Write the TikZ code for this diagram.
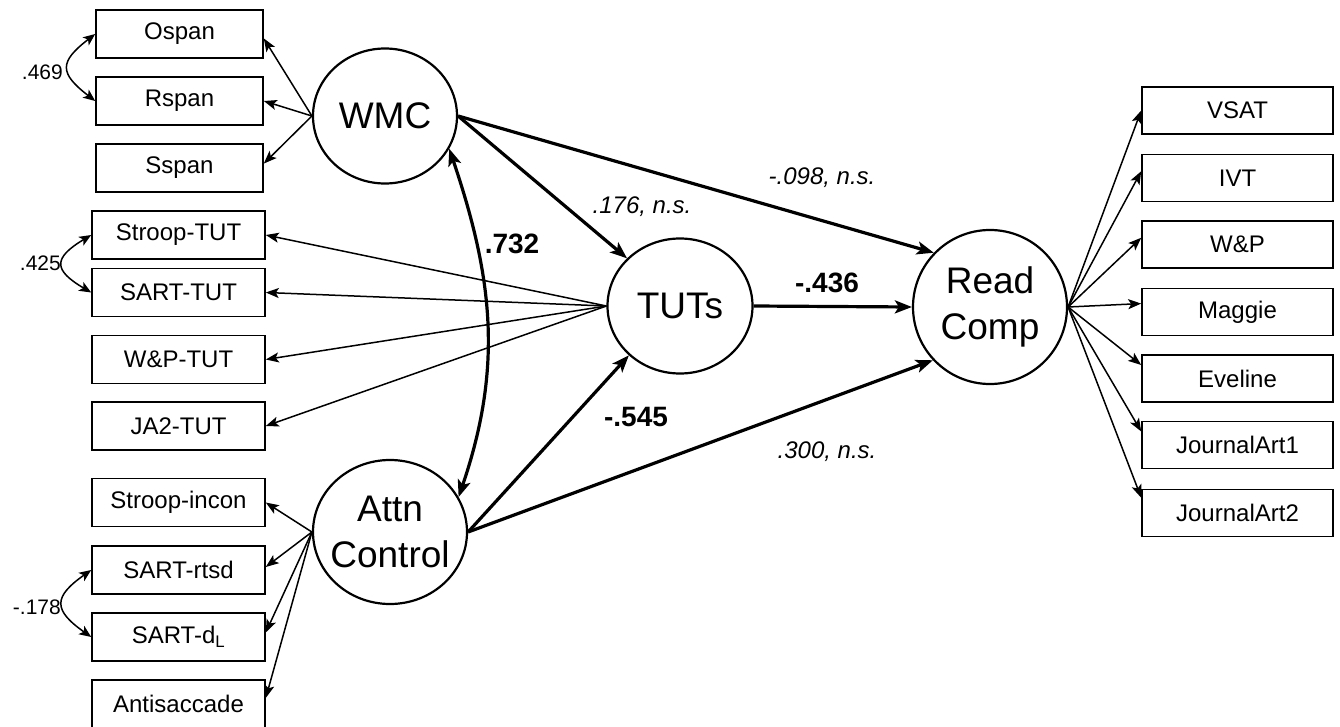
\documentclass[tikz,border=0pt]{standalone}
\usepackage{fontspec}
\setmainfont{Liberation Sans}
\usetikzlibrary{shapes.geometric,arrows.meta}
\begin{document}
\begin{tikzpicture}[x=1pt,y=-1pt,
  obsbox/.style={draw,line width=1.6pt,minimum height=48pt,inner sep=0pt,font=\fontsize{24}{26}\selectfont},
  lbox/.style={obsbox,minimum width=167pt},
  tbox/.style={obsbox,minimum width=173pt},
  rbox/.style={obsbox,minimum width=191pt,minimum height=47pt},
  latent/.style={ellipse,draw,line width=2.2pt,inner sep=0pt},
  latfont/.style={font=\fontsize{37}{46}\selectfont,align=center,inner sep=0pt},
  loading/.style={-{Stealth[length=13pt,width=10pt,inset=3pt]},line width=1.5pt},
  regpath/.style={-{Stealth[length=17pt,width=13pt,inset=4pt]},line width=3.2pt},
  cov/.style={{Stealth[length=12pt,width=10pt,inset=3pt]}-{Stealth[length=12pt,width=10pt,inset=3pt]},line width=1.5pt},
  bigcov/.style={{Stealth[length=17pt,width=13pt,inset=4pt]}-{Stealth[length=17pt,width=13pt,inset=4pt]},line width=3.2pt},
  coef/.style={font=\bfseries\fontsize{28}{30}\selectfont,inner sep=0pt},
  nscoef/.style={font=\itshape\fontsize{24}{26}\selectfont,inner sep=0pt},
  corr/.style={font=\fontsize{21}{23}\selectfont,anchor=east,inner sep=0pt},
]
\path[use as bounding box,fill=white] (0,0) rectangle (1340,727);

% latent variables
\node[latent,minimum width=144pt,minimum height=135pt,label={[latfont]center:WMC}] (wmc) at (385,116) {};
\node[latent,minimum width=145pt,minimum height=135pt,label={[latfont]center:TUTs}] (tuts) at (680,306) {};
\node[latent,minimum width=154pt,minimum height=154pt,label={[latfont]center:Read\\Comp}] (rc) at (990,307) {};
\node[latent,minimum width=154pt,minimum height=144pt,label={[latfont]center:Attn\\Control}] (attn) at (390,532) {};

% WMC indicators
\node[lbox] (ospan) at (179.5,34) {Ospan};
\node[lbox] (rspan) at (179.5,101) {Rspan};
\node[lbox] (sspan) at (179.5,168) {Sspan};

% TUT indicators
\node[tbox] (stut) at (178.5,235) {Stroop-TUT};
\node[tbox] (sarttut) at (178.5,292.5) {SART-TUT};
\node[tbox] (wptut) at (178.5,359.5) {W\&P-TUT};
\node[tbox] (jatut) at (178.5,426) {JA2-TUT};

% Attention control indicators
\node[tbox] (sincon) at (178.5,502.5) {Stroop-incon};
\node[tbox] (srtsd) at (178.5,570) {SART-rtsd};
\node[tbox] (sdl) at (178.5,637) {SART-d\textsubscript{L}};
\node[tbox] (anti) at (178.5,704) {Antisaccade};

% Reading comprehension indicators
\node[rbox] (vsat) at (1237.5,110.5) {VSAT};
\node[rbox] (ivt) at (1237.5,178) {IVT};
\node[rbox] (wp) at (1237.5,244.5) {W\&P};
\node[rbox] (maggie) at (1237.5,312) {Maggie};
\node[rbox] (eveline) at (1237.5,378.5) {Eveline};
\node[rbox] (ja1) at (1237.5,445) {JournalArt1};
\node[rbox] (ja2) at (1237.5,513) {JournalArt2};

% loadings
\draw[loading] (wmc.west) -- (ospan.357);
\draw[loading] (wmc.west) -- (rspan.east);
\draw[loading] (wmc.west) -- (sspan.3);

\draw[loading] (tuts.west) -- (stut.east);
\draw[loading] (tuts.west) -- (sarttut.east);
\draw[loading] (tuts.west) -- (wptut.east);
\draw[loading] (tuts.west) -- (jatut.east);

\draw[loading] (attn.west) -- (sincon.east);
\draw[loading] (attn.west) -- (srtsd.2);
\draw[loading] (attn.west) -- (sdl.3);
\draw[loading] (attn.west) -- (anti.4);

\draw[loading] (rc.east) -- (vsat.west);
\draw[loading] (rc.east) -- (ivt.176);
\draw[loading] (rc.east) -- (wp.176);
\draw[loading] (rc.east) -- (maggie.175);
\draw[loading] (rc.east) -- (eveline.172);
\draw[loading] (rc.east) -- (ja1.172);
\draw[loading] (rc.east) -- (ja2.171);

% residual correlations
\draw[cov] (ospan.west) .. controls (59,62) and (59,73) .. (rspan.west);
\draw[cov] (stut.west) .. controls (53,258) and (53,270) .. (sarttut.west);
\draw[cov] (srtsd.west) .. controls (53,597) and (53,610) .. (sdl.west);
\node[corr] (c469) at (63,72) {.469};
\node[corr] (c425) at (61,263) {.425};
\node[corr] (c178) at (61,607) {-.178};

% structural paths
\draw[regpath] (wmc.east) -- (tuts.138);
\draw[regpath] (wmc.east) -- (rc.136);
\draw[regpath] (tuts.east) -- (rc.west);
\draw[regpath] (attn.east) -- (tuts.224);
\draw[regpath] (attn.east) -- (rc.223);
\draw[bigcov] (wmc.333) .. controls (493,278) and (503,367) .. (attn.27);

% coefficients
\node[coef] (k732) at (512,244) {.732};
\node[coef] (k436) at (827,283) {-.436};
\node[coef] (k545) at (636,417) {-.545};
\node[nscoef] (k176) at (642,207) {.176, n.s.};
\node[nscoef] (k098) at (822,178) {-.098, n.s.};
\node[nscoef] (k300) at (827,452) {.300, n.s.};
\end{tikzpicture}
\end{document}
